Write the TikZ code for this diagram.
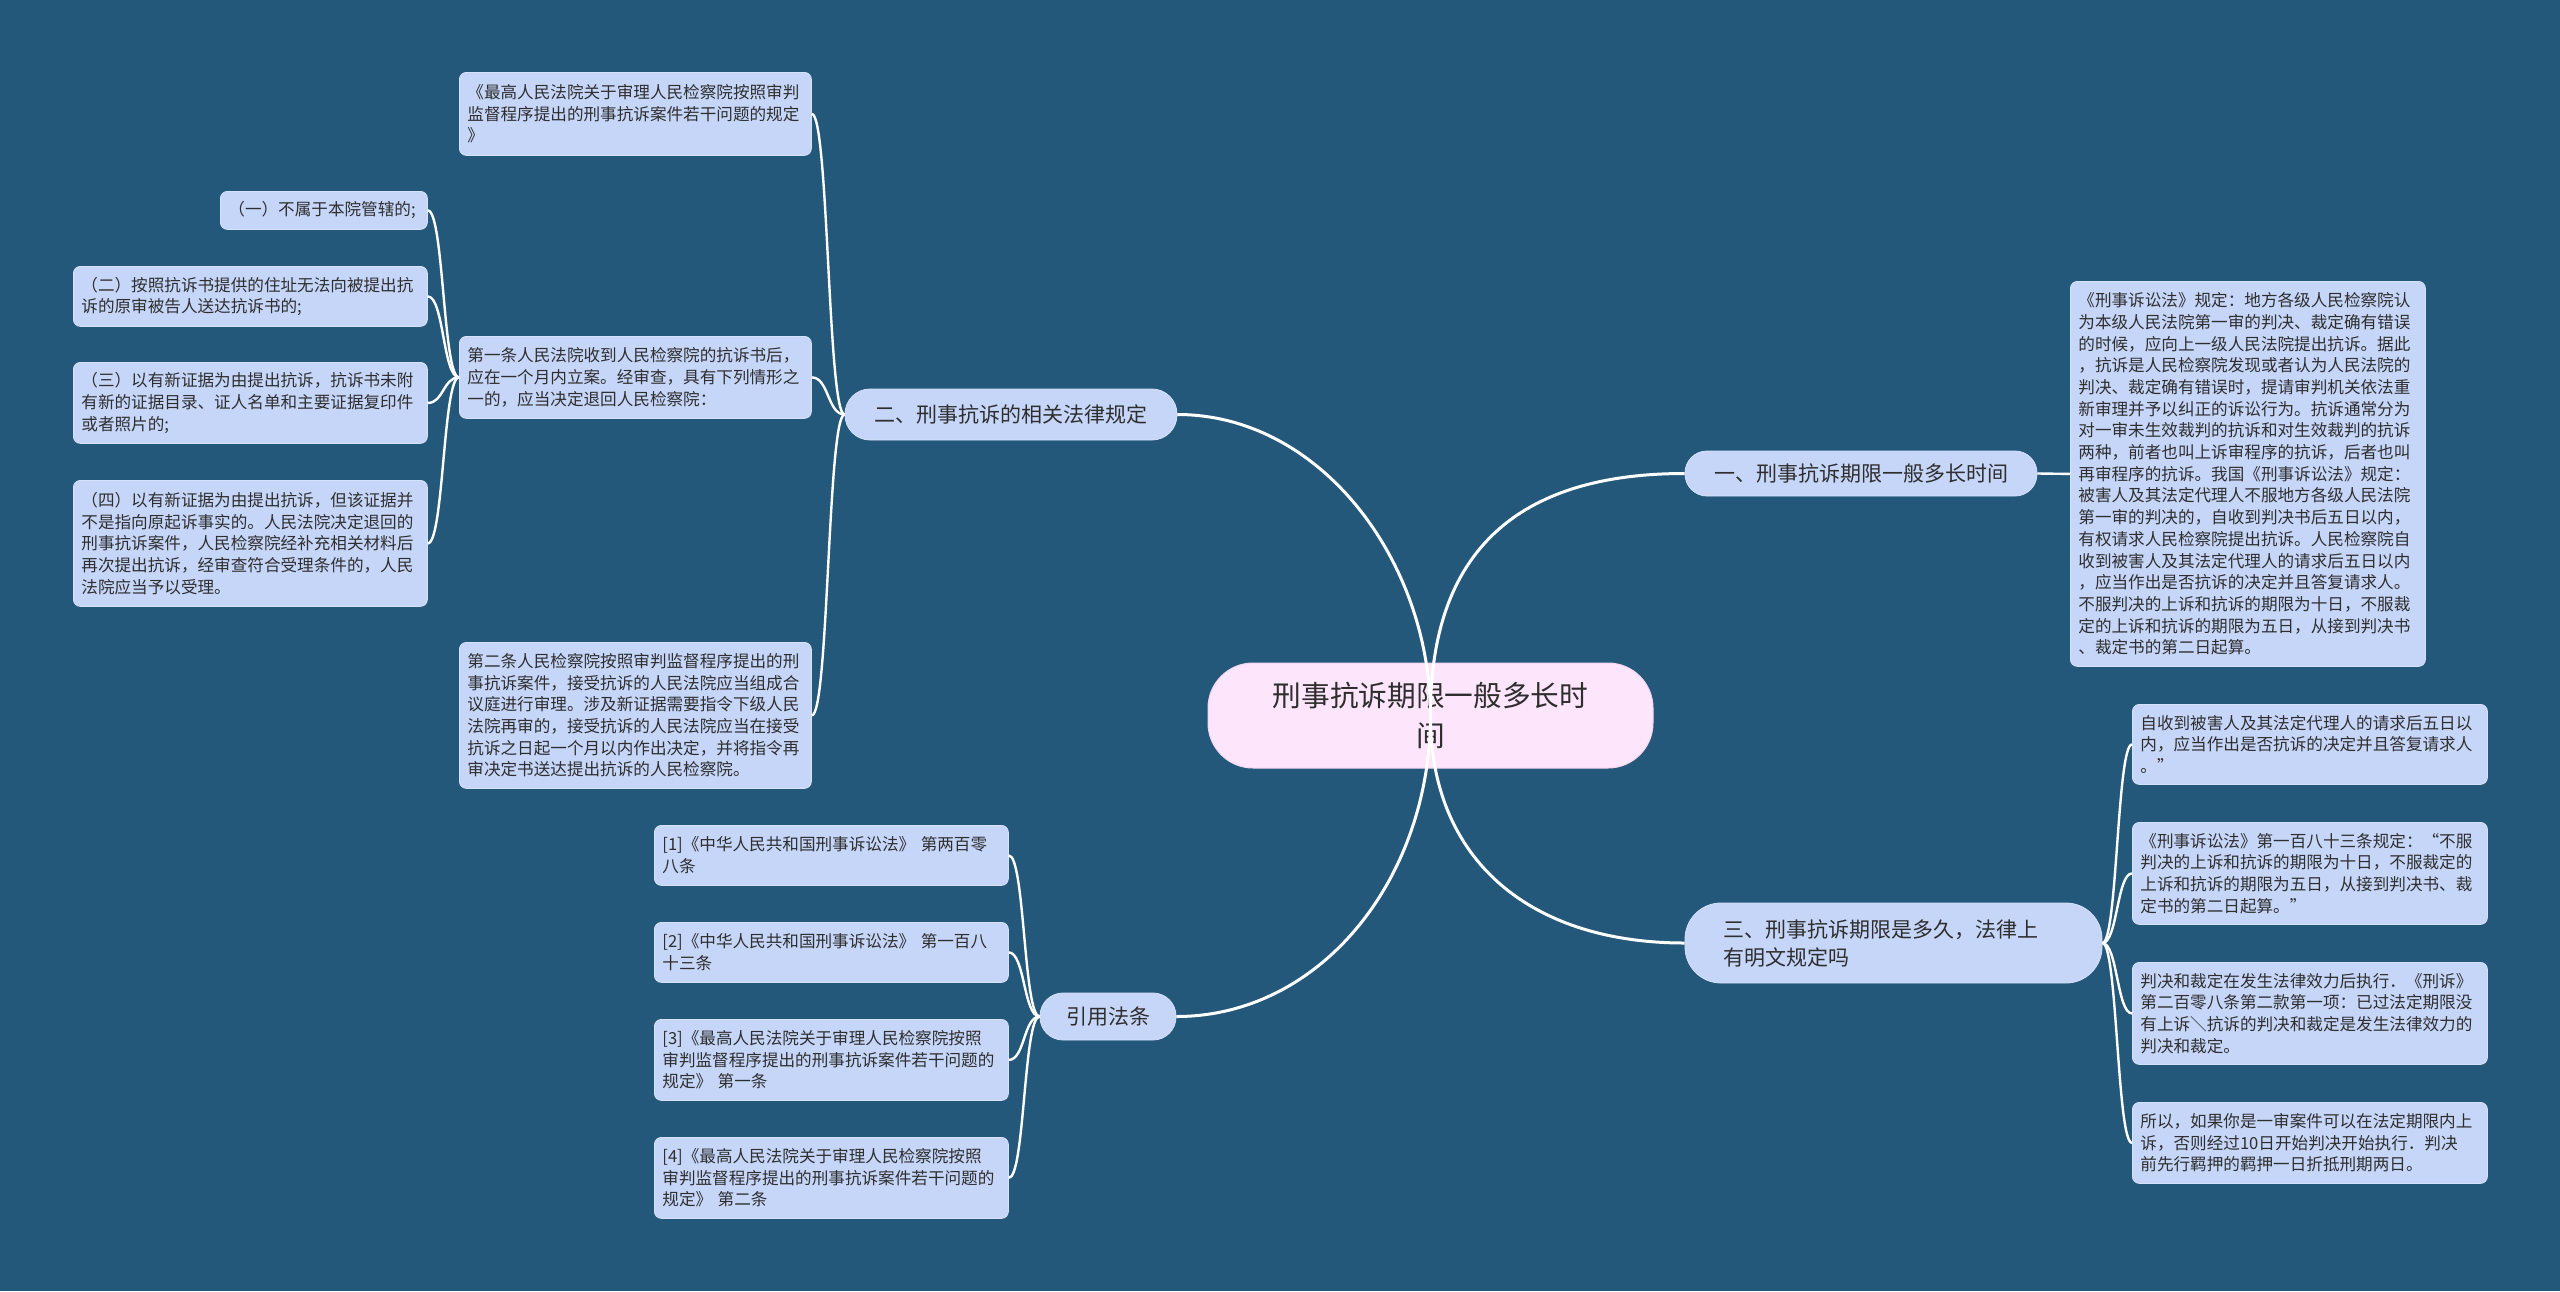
\documentclass[tikz,border=0pt]{standalone}
\usepackage{fontspec}
\setmainfont{Noto Sans CJK SC}
\definecolor{bg}{HTML}{24587A}
\definecolor{leaffill}{HTML}{C6D6F9}
\definecolor{leafline}{HTML}{D6E1FB}
\definecolor{pinkfill}{HTML}{FDE5FB}
\definecolor{pinkline}{HTML}{F4D6F2}
\definecolor{txt}{HTML}{2E2E2E}
\tikzset{
  leaf/.style={draw=leafline, fill=leaffill, line width=0.8pt, rounded corners=7pt,
    anchor=north west, inner xsep=8pt, inner ysep=0pt, align=left, text=txt,
    font=\fontsize{16.6pt}{21.7pt}\selectfont},
  branch/.style={draw=leafline, fill=leaffill, line width=0.8pt, inner sep=0pt,
    align=center, text=txt, font=\fontsize{21pt}{28pt}\selectfont},
  rootnode/.style={draw=pinkline, fill=pinkfill, line width=1pt, inner sep=0pt,
    align=center, text=txt, rounded corners=45pt, minimum width=445pt, minimum height=105pt,
    font=\fontsize{28.7pt}{40pt}\selectfont},
  mainlink/.style={draw=white, line width=3pt},
  sublink/.style={draw=white, line width=2.4pt}
}
\begin{document}
\begin{tikzpicture}[x=1pt,y=-1pt]
\fill[bg] (0,0) rectangle (2560,1291);
\useasboundingbox (0,0) rectangle (2560,1291);

% root
\node[rootnode] (root) at (1430.5,715.5) {刑事抗诉期限一般多长时\\间};

% branches
\node[branch, minimum width=352pt, minimum height=45pt, rounded corners=22pt] (b1) at (1861,473.5) {一、刑事抗诉期限一般多长时间};
\node[branch, minimum width=332pt, minimum height=51pt, rounded corners=25pt] (b2) at (1011,414.5) {二、刑事抗诉的相关法律规定};
\node[branch, minimum width=417pt, minimum height=80pt, rounded corners=36pt, text width=341pt, align=left] (b3) at (1893.5,943) {三、刑事抗诉期限是多久，法律上\\有明文规定吗};
\node[branch, minimum width=136pt, minimum height=47pt, rounded corners=23pt] (b4) at (1108,1016.5) {引用法条};

% branch 1 child
\node[leaf, minimum height=385pt, text width=339pt] (big) at (2070,281) {《刑事诉讼法》规定：地方各级人民检察院认\\为本级人民法院第一审的判决、裁定确有错误\\的时候，应向上一级人民法院提出抗诉。据此\\，抗诉是人民检察院发现或者认为人民法院的\\判决、裁定确有错误时，提请审判机关依法重\\新审理并予以纠正的诉讼行为。抗诉通常分为\\对一审未生效裁判的抗诉和对生效裁判的抗诉\\两种，前者也叫上诉审程序的抗诉，后者也叫\\再审程序的抗诉。我国《刑事诉讼法》规定：\\被害人及其法定代理人不服地方各级人民法院\\第一审的判决的，自收到判决书后五日以内，\\有权请求人民检察院提出抗诉。人民检察院自\\收到被害人及其法定代理人的请求后五日以内\\，应当作出是否抗诉的决定并且答复请求人。\\不服判决的上诉和抗诉的期限为十日，不服裁\\定的上诉和抗诉的期限为五日，从接到判决书\\、裁定书的第二日起算。};

% branch 2 children
\node[leaf, minimum height=83pt, text width=336pt] (la) at (459,72) {《最高人民法院关于审理人民检察院按照审判\\监督程序提出的刑事抗诉案件若干问题的规定\\》};
\node[leaf, minimum height=82pt, text width=336pt] (lb) at (459,336) {第一条人民法院收到人民检察院的抗诉书后，\\应在一个月内立案。经审查，具有下列情形之\\一的，应当决定退回人民检察院：};
\node[leaf, minimum height=146pt, text width=336pt] (lc) at (459,642) {第二条人民检察院按照审判监督程序提出的刑\\事抗诉案件，接受抗诉的人民法院应当组成合\\议庭进行审理。涉及新证据需要指令下级人民\\法院再审的，接受抗诉的人民法院应当在接受\\抗诉之日起一个月以内作出决定，并将指令再\\审决定书送达提出抗诉的人民检察院。};

% children of lb
\node[leaf, minimum height=38pt, text width=191pt] (lb1) at (220,191) {（一）不属于本院管辖的;};
\node[leaf, minimum height=60pt, text width=338pt] (lb2) at (73,266) {（二）按照抗诉书提供的住址无法向被提出抗\\诉的原审被告人送达抗诉书的;};
\node[leaf, minimum height=81pt, text width=338pt] (lb3) at (73,362) {（三）以有新证据为由提出抗诉，抗诉书未附\\有新的证据目录、证人名单和主要证据复印件\\或者照片的;};
\node[leaf, minimum height=126pt, text width=338pt] (lb4) at (73,480) {（四）以有新证据为由提出抗诉，但该证据并\\不是指向原起诉事实的。人民法院决定退回的\\刑事抗诉案件，人民检察院经补充相关材料后\\再次提出抗诉，经审查符合受理条件的，人民\\法院应当予以受理。};

% branch 3 children
\node[leaf, minimum height=80pt, text width=339pt] (c1) at (2132,704) {自收到被害人及其法定代理人的请求后五日以\\内，应当作出是否抗诉的决定并且答复请求人\\。”};
\node[leaf, minimum height=102pt, text width=339pt] (c2) at (2132,822) {《刑事诉讼法》第一百八十三条规定：“不服\\判决的上诉和抗诉的期限为十日，不服裁定的\\上诉和抗诉的期限为五日，从接到判决书、裁\\定书的第二日起算。”};
\node[leaf, minimum height=102pt, text width=339pt] (c3) at (2132,962) {判决和裁定在发生法律效力后执行．《刑诉》\\第二百零八条第二款第一项：已过法定期限没\\有上诉＼抗诉的判决和裁定是发生法律效力的\\判决和裁定。};
\node[leaf, minimum height=81pt, text width=339pt] (c4) at (2132,1102) {所以，如果你是一审案件可以在法定期限内上\\诉，否则经过10日开始判决开始执行．判决\\前先行羁押的羁押一日折抵刑期两日。};

% branch 4 children
\node[leaf, minimum height=60pt, text width=338pt] (r1) at (654,825) {[1]《中华人民共和国刑事诉讼法》 第两百零\\八条};
\node[leaf, minimum height=60pt, text width=338pt] (r2) at (654,922) {[2]《中华人民共和国刑事诉讼法》 第一百八\\十三条};
\node[leaf, minimum height=81pt, text width=338pt] (r3) at (654,1019) {[3]《最高人民法院关于审理人民检察院按照\\审判监督程序提出的刑事抗诉案件若干问题的\\规定》 第一条};
\node[leaf, minimum height=81pt, text width=338pt] (r4) at (654,1137) {[4]《最高人民法院关于审理人民检察院按照\\审判监督程序提出的刑事抗诉案件若干问题的\\规定》 第二条};

% main connectors
\draw[mainlink] (root.center) .. controls (1430,540) and (1530,473.5) .. (b1.west);
\draw[mainlink] (root.center) .. controls (1430,560) and (1320,414.5) .. (b2.east);
\draw[mainlink] (root.center) .. controls (1430,860) and (1530,943) .. (b3.west);
\draw[mainlink] (root.center) .. controls (1430,880) and (1320,1016.5) .. (b4.east);

% sub connectors
\draw[sublink] (b1.east) -- (big.west);
\foreach \n in {la,lb,lc}
  \draw[sublink] (b2.west) .. controls +(-17,0) and +(17,0) .. (\n.east);
\foreach \n in {lb1,lb2,lb3,lb4}
  \draw[sublink] (lb.west) .. controls +(-16,0) and +(16,0) .. (\n.east);
\foreach \n in {c1,c2,c3,c4}
  \draw[sublink] (b3.east) .. controls +(15,0) and +(-15,0) .. (\n.west);
\foreach \n in {r1,r2,r3,r4}
  \draw[sublink] (b4.west) .. controls +(-16,0) and +(16,0) .. (\n.east);
\end{tikzpicture}
\end{document}
